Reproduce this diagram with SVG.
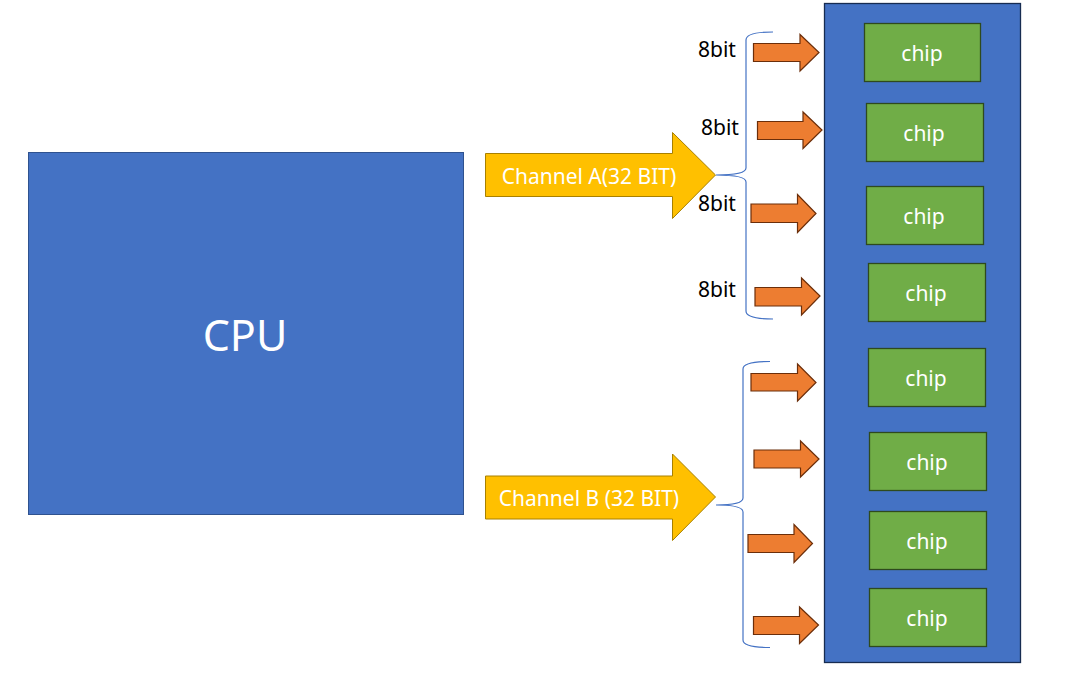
<svg xmlns="http://www.w3.org/2000/svg" width="1065" height="680" viewBox="0 0 1065 680">
<style>
.cpu{fill:#4472C4;stroke:#2F528F;stroke-width:1}
.mem{fill:#4472C4;stroke:#172C51;stroke-width:1.3}
.chip{fill:#70AD47;stroke:#2E4A1E;stroke-width:1.3}
.ch{fill:#FFC000;stroke:#A88000;stroke-width:1}
.oa{fill:#ED7D31;stroke:#6B2E0A;stroke-width:1.2}
.brace{fill:none;stroke:#4472C4;stroke-width:1.2}
.wt{fill:#FFFFFF;font-family:"Noto Sans","Open Sans","Liberation Sans",sans-serif;text-anchor:middle;dominant-baseline:central}
.lbl{fill:#000000;font-family:"Noto Sans","Open Sans","Liberation Sans",sans-serif;font-size:21px}
</style>
<rect width="1065" height="680" fill="#FFFFFF"/>
<g id="cpu">
<rect class="cpu" x="28.5" y="152.5" width="435" height="362"/>
<text class="wt" x="245" y="334" font-size="43">CPU</text>
</g>
<g id="memory">
<rect class="mem" x="824.5" y="3.5" width="196" height="659"/>
</g>
<g id="chip1"><rect class="chip" x="864.5" y="23.5" width="116" height="58"/><text class="wt" x="922" y="53" font-size="21">chip</text></g>
<g id="chip2"><rect class="chip" x="866.5" y="103.5" width="117" height="58"/><text class="wt" x="924" y="133" font-size="21">chip</text></g>
<g id="chip3"><rect class="chip" x="866.5" y="186.5" width="117" height="58"/><text class="wt" x="924" y="216" font-size="21">chip</text></g>
<g id="chip4"><rect class="chip" x="868.5" y="263.5" width="117" height="58"/><text class="wt" x="926" y="293" font-size="21">chip</text></g>
<g id="chip5"><rect class="chip" x="868.5" y="348.5" width="117" height="58"/><text class="wt" x="926" y="378" font-size="21">chip</text></g>
<g id="chip6"><rect class="chip" x="869.5" y="432.5" width="117" height="58"/><text class="wt" x="927" y="462" font-size="21">chip</text></g>
<g id="chip7"><rect class="chip" x="869.5" y="511.5" width="117" height="58"/><text class="wt" x="927" y="541" font-size="21">chip</text></g>
<g id="chip8"><rect class="chip" x="869.5" y="588.5" width="117" height="58"/><text class="wt" x="927" y="618" font-size="21">chip</text></g>
<g id="channelA">
<polygon class="ch" points="485.5,153.5 672.5,153.5 672.5,132.5 715.5,175 672.5,218.5 672.5,196.5 485.5,196.5"/>
<text class="wt" x="589" y="176" font-size="21">Channel A(32 BIT)</text>
</g>
<g id="channelB">
<polygon class="ch" points="485.5,476 672.5,476 672.5,454 715.5,497 672.5,540.5 672.5,519 485.5,519"/>
<text class="wt" x="589" y="498" font-size="21">Channel B (32 BIT)</text>
</g>
<g id="connectors">
<path class="brace" d="M773,32 Q746,32 746,40 L746,168 Q746,175 716,175 Q746,175 746,182 L746,311 Q746,319 773,319"/>
<path class="brace" d="M770,361.5 Q743,361.5 743,369 L743,498 Q743,505 716,505 Q743,505 743,512 L743,640 Q743,647.5 770,647.5"/>
<polygon class="oa" points="753.5,43.5 800,43.5 800,34.5 819,52.5 800,71 800,61.5 753.5,61.5"/>
<polygon class="oa" points="757.5,121.5 803,121.5 803,112 822,130 803,148.5 803,139.5 757.5,139.5"/>
<polygon class="oa" points="751,204 797.5,204 797.5,194.5 816,213.5 797.5,232.5 797.5,222.5 751,222.5"/>
<polygon class="oa" points="755,287.5 801.5,287.5 801.5,278 820,296 801.5,315 801.5,306 755,306"/>
<polygon class="oa" points="751,373.5 797.5,373.5 797.5,364 816,382.5 797.5,401 797.5,391 751,391"/>
<polygon class="oa" points="754,450 800.5,450 800.5,441 819,459 800.5,477 800.5,468 754,468"/>
<polygon class="oa" points="748,534.5 794,534.5 794,524.5 812.5,543.5 794,562.5 794,552.5 748,552.5"/>
<polygon class="oa" points="753.5,616.5 799.5,616.5 799.5,607 818.5,625 799.5,643.5 799.5,634.5 753.5,634.5"/>
</g>
<g id="labels">
<text class="lbl" x="698" y="57">8bit</text>
<text class="lbl" x="701" y="135">8bit</text>
<text class="lbl" x="698" y="211">8bit</text>
<text class="lbl" x="698" y="297">8bit</text>
</g>
</svg>
